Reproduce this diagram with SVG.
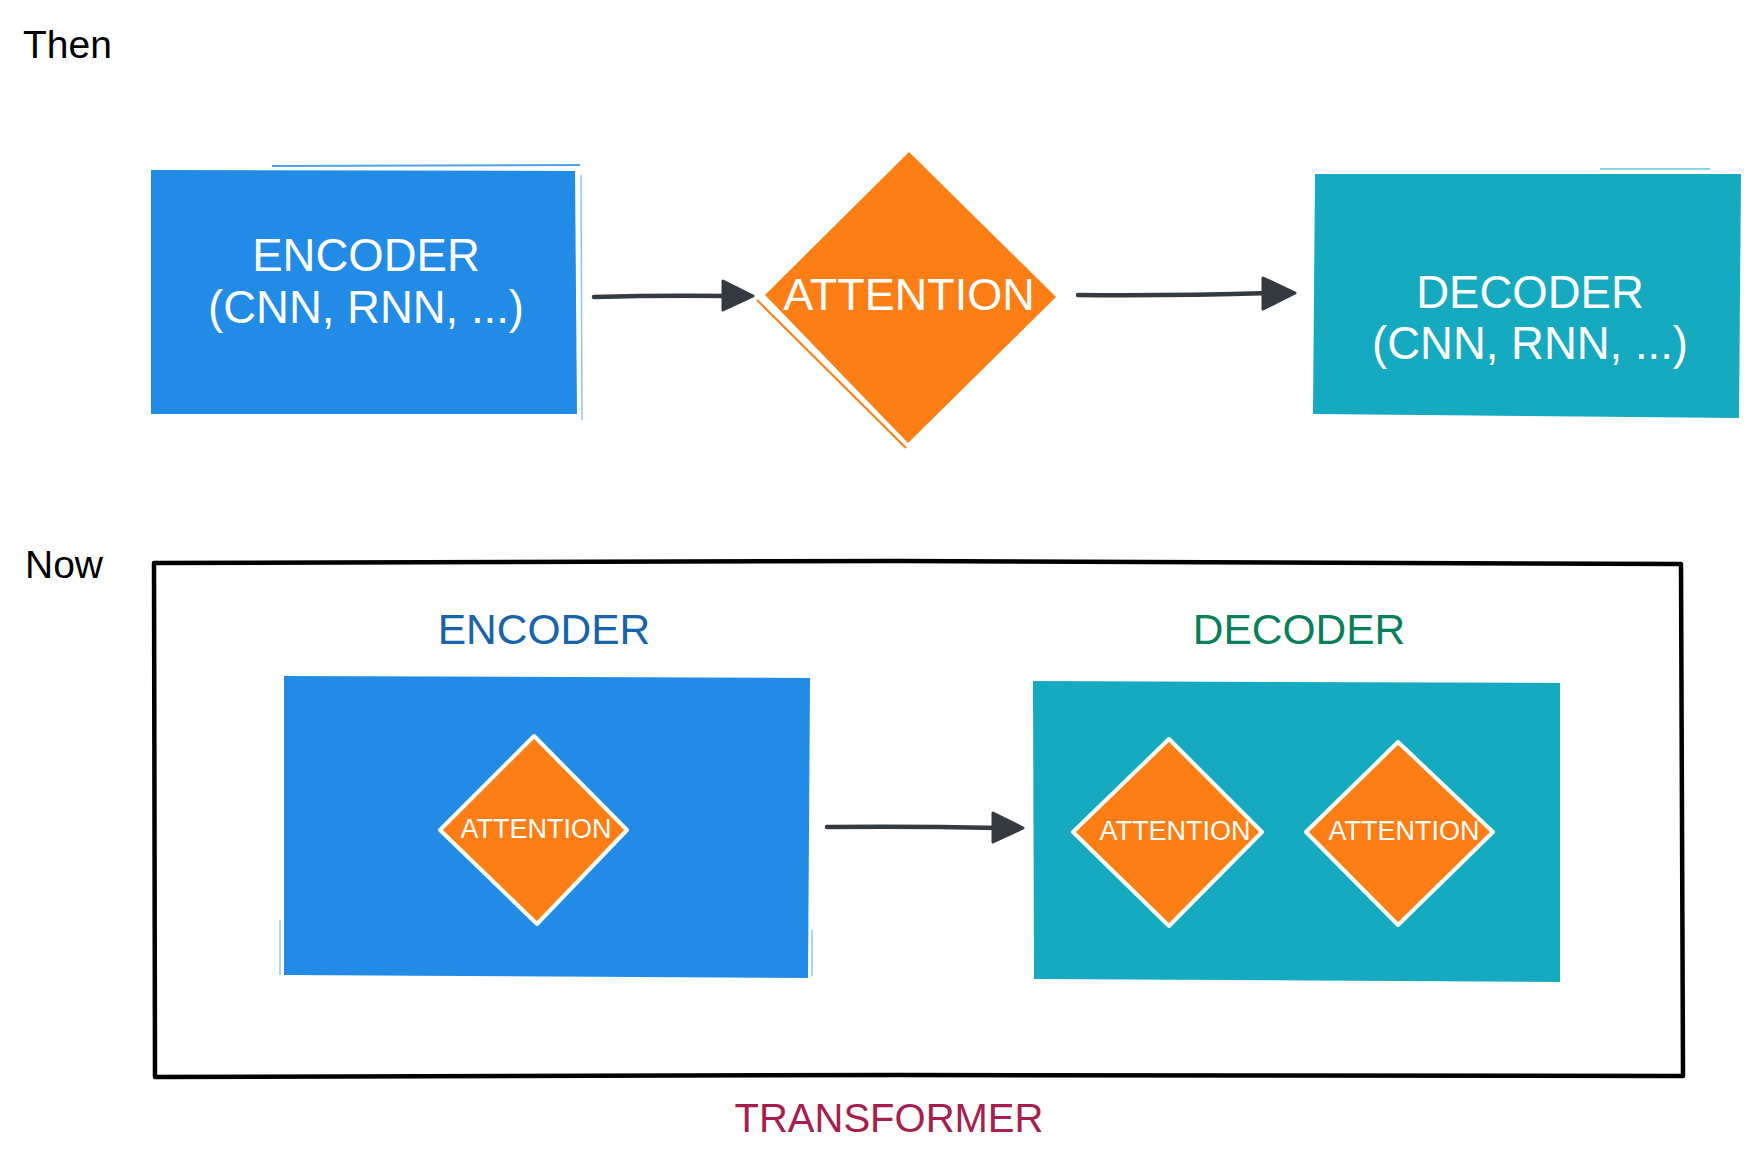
<svg xmlns="http://www.w3.org/2000/svg" width="1763" height="1159" viewBox="0 0 1763 1159">
  <defs>
    <style>
      .t { font-family: "Liberation Sans", Arial, Helvetica, sans-serif; }
      .w { fill: #ffffff; }
      .blue { fill: #228be6; }
      .cyan { fill: #15aabf; }
      .orange { fill: #fd7e14; }
      .small-d { fill: #fd7e14; stroke: #ffffff; stroke-width: 4; stroke-linejoin: round; }
      .conn { fill: none; stroke: #343a40; stroke-width: 4.5; stroke-linecap: round; }
      .head { fill: #343a40; stroke: #343a40; stroke-width: 3; stroke-linejoin: round; }
    </style>
  </defs>
  <rect x="0" y="0" width="1763" height="1159" fill="#ffffff"/>

  <g id="label-then">
    <text class="t" x="23" y="58" font-size="39" fill="#000000">Then</text>
  </g>
  <g id="label-now">
    <text class="t" x="25" y="578" font-size="39" fill="#000000">Now</text>
  </g>

  <g id="encoder-then">
    <polygon class="blue" points="151,170 575,171 577,414 151,414"/>
    <line x1="272" y1="166" x2="580" y2="165" stroke="#228be6" stroke-width="2" opacity="0.8"/>
    <line x1="581" y1="175" x2="582" y2="420" stroke="#228be6" stroke-width="1.5" opacity="0.5"/>
    <text class="t w" x="366" y="271" font-size="45.5" text-anchor="middle">ENCODER</text>
    <text class="t w" x="366" y="323" font-size="45.5" text-anchor="middle">(CNN, RNN, ...)</text>
  </g>

  <g id="attention-then">
    <polygon class="orange" points="909,152 1056,297 908,443 765,295"/>
    <line x1="757" y1="300" x2="906" y2="448" stroke="#fd7e14" stroke-width="2"/>
    <text class="t w" x="909" y="310" font-size="45" text-anchor="middle">ATTENTION</text>
  </g>

  <g id="decoder-then">
    <polygon class="cyan" points="1315,174 1741,174 1739,418 1313,414"/>
    <line x1="1600" y1="169" x2="1710" y2="169" stroke="#15aabf" stroke-width="2" opacity="0.5"/>
    <text class="t w" x="1530" y="308" font-size="45.5" text-anchor="middle">DECODER</text>
    <text class="t w" x="1530" y="359" font-size="45.5" text-anchor="middle">(CNN, RNN, ...)</text>
  </g>

  <g id="transformer-frame">
    <path d="M154,563 L900,561 L1681,564 L1683,1076 L900,1075 L155,1077 Z" fill="none" stroke="#000000" stroke-width="4.5" stroke-linejoin="round"/>
    <text class="t" x="889" y="1132" font-size="40" fill="#a61e4d" text-anchor="middle">TRANSFORMER</text>
  </g>

  <g id="encoder-now">
    <text class="t" x="544" y="644" font-size="42.5" fill="#1864ab" text-anchor="middle">ENCODER</text>
    <polygon class="blue" points="284,676 810,678 808,978 284,975"/>
    <line x1="280" y1="920" x2="280" y2="975" stroke="#228be6" stroke-width="1.5" opacity="0.5"/>
    <line x1="812" y1="930" x2="812" y2="976" stroke="#228be6" stroke-width="1.5" opacity="0.5"/>
  </g>
  <g id="attention-enc">
    <polygon class="small-d" points="534,736 627,830 537,924 440,830"/>
    <text class="t w" x="536" y="838" font-size="27" text-anchor="middle">ATTENTION</text>
  </g>

  <g id="decoder-now">
    <text class="t" x="1299" y="644" font-size="42.5" fill="#087f5b" text-anchor="middle">DECODER</text>
    <polygon class="cyan" points="1033,681 1560,683 1560,982 1034,979"/>
  </g>
  <g id="attention-dec-1">
    <polygon class="small-d" points="1169,739 1262,832 1169,926 1073,832"/>
    <text class="t w" x="1175" y="840" font-size="27" text-anchor="middle">ATTENTION</text>
  </g>
  <g id="attention-dec-2">
    <polygon class="small-d" points="1398,742 1493,832 1398,925 1306,832"/>
    <text class="t w" x="1404" y="840" font-size="27" text-anchor="middle">ATTENTION</text>
  </g>

  <g id="connectors">
    <path class="conn" d="M594,297 Q660,295 730,296"/>
    <polygon class="head" points="723,281 753,296 723,310"/>
    <path class="conn" d="M1078,295 Q1170,296 1270,293"/>
    <polygon class="head" points="1263,278 1295,293 1263,309"/>
    <path class="conn" d="M827,827 Q910,826 1000,828"/>
    <polygon class="head" points="993,813 1023,828 993,842"/>
  </g>
</svg>
